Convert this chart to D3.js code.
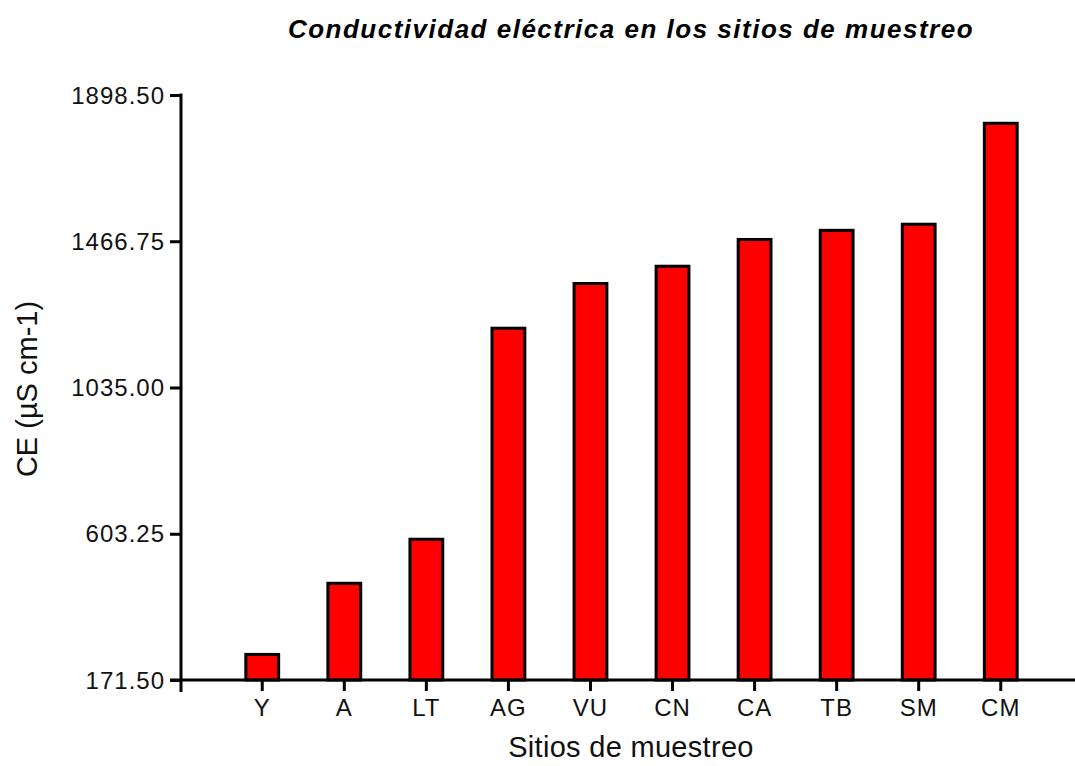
<!DOCTYPE html>
<html>
<head>
<meta charset="utf-8">
<script src="https://cdn.jsdelivr.net/npm/d3@7"></script>
<style>
  html, body { margin: 0; padding: 0; background: #fff; }
  svg { display: block; font-family: "Liberation Sans", Arial, sans-serif; }
</style>
</head>
<body>
<svg id="chart" width="1075" height="766"></svg>
<script>
const categories = ["Y", "A", "LT", "AG", "VU", "CN", "CA", "TB", "SM", "CM"];
const values = [247, 457, 587, 1210, 1342, 1393, 1472, 1499, 1517, 1815];
const yTicks = [171.5, 603.25, 1035, 1466.75, 1898.5];
const yTickLabels = ["171.50", "603.25", "1035.00", "1466.75", "1898.50"];
const titleText = "Conductividad eléctrica en los sitios de muestreo";
const xTitle = "Sitios de muestreo";
const yTitle = "CE (µS cm-1)";

const svg = d3.select("#chart");
const x0 = 181, yBase = 680, yTop = 95;

const x = d3.scaleBand().domain(categories).range([x0, 1082])
  .paddingInner(0.6).paddingOuter(0.79);
const y = d3.scaleLinear().domain([171.5, 1898.5]).range([yBase, yTop]);

// bars
svg.append("g").selectAll("rect").data(categories).join("rect")
  .attr("x", d => x(d))
  .attr("width", x.bandwidth())
  .attr("y", (d, i) => y(values[i]))
  .attr("height", (d, i) => yBase - y(values[i]))
  .attr("fill", "#ff0000")
  .attr("stroke", "#000")
  .attr("stroke-width", 3);

// y axis
const yAxis = d3.axisLeft(y).tickValues(yTicks)
  .tickFormat((d, i) => yTickLabels[i]).tickSize(11).tickPadding(5);
const gy = svg.append("g").attr("transform", `translate(${x0},0)`).call(yAxis);
gy.select(".domain").remove();
gy.selectAll(".tick line").attr("stroke", "#000").attr("stroke-width", 3);
gy.selectAll(".tick text").attr("fill", "#111").style("font-size", "24px")
  .style("letter-spacing", "1px").attr("dy", "0.34em");

// x axis
const xAxis = d3.axisBottom(x).tickSize(11).tickPadding(8);
const gx = svg.append("g").attr("transform", `translate(0,${yBase})`).call(xAxis);
gx.select(".domain").remove();
gx.selectAll(".tick line").attr("stroke", "#000").attr("stroke-width", 3);
gx.selectAll(".tick text").attr("fill", "#111").style("font-size", "24px")
  .style("letter-spacing", "1px").attr("dy", "0.72em");

// axis lines
svg.append("line").attr("x1", x0).attr("x2", x0).attr("y1", yTop - 1.5).attr("y2", 692)
  .attr("stroke", "#000").attr("stroke-width", 3);
svg.append("line").attr("x1", 170).attr("x2", 1075).attr("y1", yBase).attr("y2", yBase)
  .attr("stroke", "#000").attr("stroke-width", 3);

// titles
svg.append("text").attr("x", 631).attr("y", 38).attr("text-anchor", "middle")
  .style("font-size", "26px").style("font-weight", "bold").style("font-style", "italic")
  .style("letter-spacing", "1.5px").attr("fill", "#000").text(titleText);

svg.append("text").attr("x", 631).attr("y", 757).attr("text-anchor", "middle")
  .style("font-size", "29px").style("letter-spacing", "0.3px").attr("fill", "#111").text(xTitle);

svg.append("text").attr("transform", "translate(37,389) rotate(-90)")
  .attr("text-anchor", "middle").style("font-size", "29px").attr("fill", "#111").text(yTitle);
</script>
</body>
</html>
